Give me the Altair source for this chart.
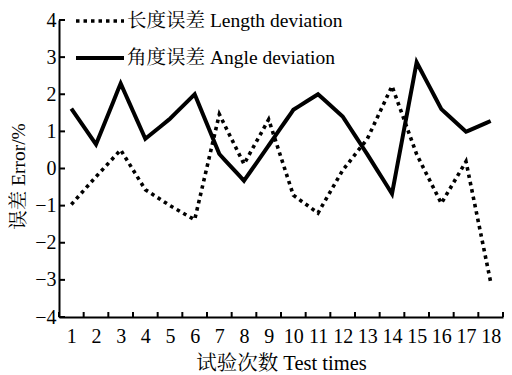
import altair as alt
import pandas as pd

trials = list(range(1, 19))
length_dev = [-0.97, -0.22, 0.50, -0.57, -1.00, -1.38, 1.46, 0.12, 1.32,
              -0.72, -1.20, -0.05, 0.80, 2.22, 0.38, -0.94, 0.19, -3.06]
angle_dev = [1.61, 0.65, 2.29, 0.80, 1.34, 2.00, 0.39, -0.33, 0.62,
             1.58, 2.00, 1.40, 0.38, -0.68, 2.86, 1.60, 0.99, 1.28]
series_names = ["长度误差 Length deviation", "角度误差 Angle deviation"]
y_ticks = list(range(-4, 5))
x_bounds = [t - 0.5 for t in trials] + [trials[-1] + 0.5]

df = pd.DataFrame({
    "trial": trials * 2,
    "value": length_dev + angle_dev,
    "series": [series_names[0]] * len(trials) + [series_names[1]] * len(trials),
})

W, H = 444, 297
FONT = "Liberation Serif, 'Noto Serif CJK SC', 'Noto Sans CJK SC'"

x_scale = alt.Scale(domain=[0.5, 18.5], nice=False, zero=False)
y_scale = alt.Scale(domain=[-4, 4], nice=False, zero=False)

x_axis = alt.Axis(values=trials, title="试验次数 Test times", ticks=False, grid=False,
                  domainColor="black", domainWidth=2,
                  labelFont=FONT, labelFontSize=20, labelColor="black", labelPadding=9,
                  labelFlush=False, labelOverlap=False,
                  titleFont=FONT, titleFontSize=20.5, titleFontWeight="normal",
                  titleColor="black", titlePadding=7)
y_axis = alt.Axis(values=y_ticks, title="误差 Error/%", ticks=False, grid=False,
                  domainColor="black", domainWidth=2,
                  labelFont=FONT, labelFontSize=20, labelColor="black", labelPadding=3,
                  labelFlush=False, labelOverlap=False,
                  titleFont=FONT, titleFontSize=19.5, titleFontWeight="normal",
                  titleColor="black", titleX=-31, titleY=156)

lines = alt.Chart(df).mark_line(color="black", strokeJoin="miter").encode(
    x=alt.X("trial:Q", scale=x_scale, axis=x_axis),
    y=alt.Y("value:Q", scale=y_scale, axis=y_axis),
    strokeDash=alt.StrokeDash(
        "series:N",
        scale=alt.Scale(domain=series_names, range=[[3.5, 4], [10, 0]]),
        legend=alt.Legend(title=None, orient="none", legendX=27, legendY=-13,
                          symbolType="M-2,0H2", symbolSize=576, symbolStrokeWidth=4,
                          symbolStrokeColor="black", labelOffset=13, rowPadding=13,
                          padding=0, labelFont=FONT, labelFontSize=19.5, labelColor="black",
                          labelLimit=400, labelBaseline="middle")),
    strokeWidth=alt.StrokeWidth(
        "series:N", scale=alt.Scale(domain=series_names, range=[3.6, 4]), legend=None),
)

xt = alt.Chart(pd.DataFrame({"trial": x_bounds})).mark_rule(color="black", strokeWidth=2).encode(
    x=alt.X("trial:Q", scale=x_scale, axis=x_axis),
    y=alt.value(H), y2=alt.value(H - 5),
)

yt = alt.Chart(pd.DataFrame({"value": y_ticks})).mark_rule(color="black", strokeWidth=2).encode(
    y=alt.Y("value:Q", scale=y_scale, axis=y_axis),
    x=alt.value(0), x2=alt.value(6),
)

chart = alt.layer(lines, xt, yt).properties(
    width=W, height=H,
    padding={"left": 51, "top": 12, "right": 1, "bottom": 58},
    autosize=alt.AutoSizeParams(type="none"),
    background="white",
).configure_view(strokeWidth=0)

chart.save("out.html", embed_options={"renderer": "svg", "actions": False})
